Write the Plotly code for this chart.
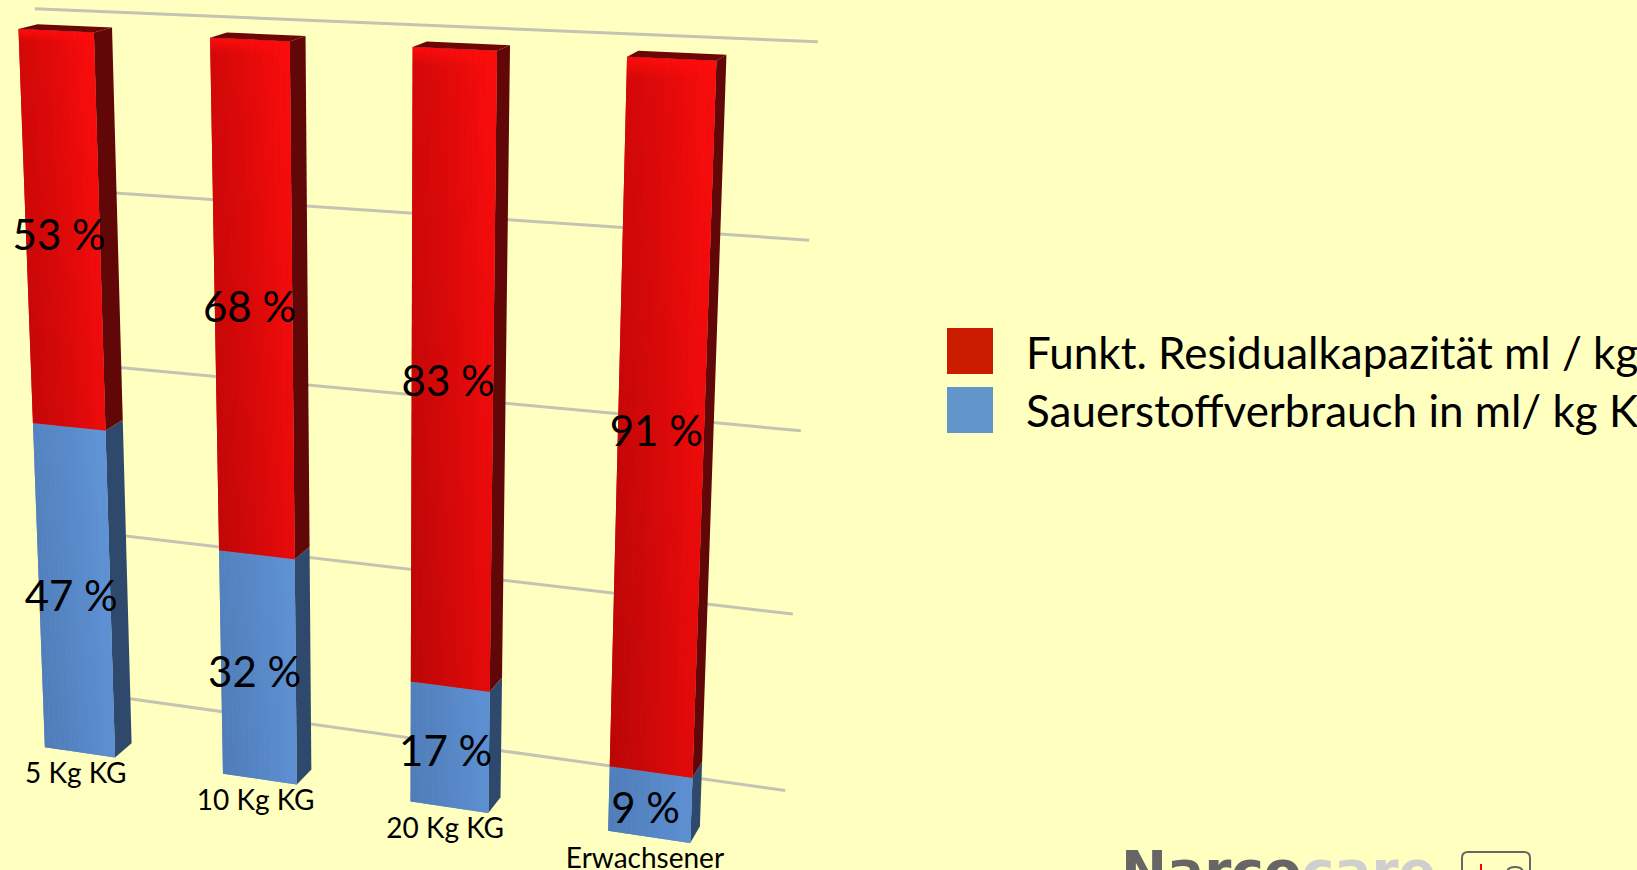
import numpy as np
import plotly.graph_objects as go

# ---- data ----
categories = ["5 Kg KG", "10 Kg KG", "20 Kg KG", "Erwachsener"]
frc_percent = [53, 68, 83, 91]
oxygen_percent = [47, 32, 17, 9]
series_names = ["Funkt. Residualkapazität ml / kg KG", "Sauerstoffverbrauch in ml/ kg KG"]
axis_ticks = [0, 25, 50, 75, 100]

# ---- page / style ----
W, H = 1637, 870
BG = "#FFFFC0"
FONT = "Lato"
HW = 0.2
WALL_D = 3.8

# ---- camera calibration of the tilted 3D chart box: (category, value, depth) -> page pixel ----
calib_world = []
calib_px = []
corner_px = [
    [(44, 747), (115, 757), (133, 742), (18, 30), (95, 32), (113, 28)],
    [(222, 775), (296, 784), (313, 770), (211, 38), (288, 41), (306, 35)],
    [(409, 802), (488, 813), (502, 797), (413, 47), (497, 51), (511, 45)],
    [(607, 831), (689, 843), (702, 827), (628, 57), (715, 60), (727, 55)],
]
for i, row in enumerate(corner_px):
    w = [(i - HW, 0, 0), (i + HW, 0, 0), (i + HW, 0, 1), (i - HW, 100, 0), (i + HW, 100, 0), (i + HW, 100, 1)]
    calib_world += w
    calib_px += row
calib_world += [(-0.5, 100, WALL_D), (3.5, 100, WALL_D), (3.5, 0, WALL_D), (-0.5, 0, WALL_D)]
calib_px += [(33, 9), (817, 42), (785, 790), (59, 689)]

A, b = [], []
for (X, V, D), (u, v) in zip(calib_world, calib_px):
    V = V / 100
    u, v = u / 1000, v / 1000
    A.append([X, V, D, 1, 0, 0, 0, 0, -u * X, -u * V, -u * D]); b.append(u)
    A.append([0, 0, 0, 0, X, V, D, 1, -v * X, -v * V, -v * D]); b.append(v)
p = np.linalg.lstsq(np.array(A, float), np.array(b, float), rcond=None)[0]


def proj(X, V, D=0.0):
    V = V / 100
    w = p[8] * X + p[9] * V + p[10] * D + 1
    return (1000 * (p[0] * X + p[1] * V + p[2] * D + p[3]) / w,
            1000 * (p[4] * X + p[5] * V + p[6] * D + p[7]) / w)


def mix(c0, c1, t):
    return tuple(c0[k] + (c1[k] - c0[k]) * t for k in range(3))


def rgb(c):
    return "rgb(%d,%d,%d)" % tuple(round(x) for x in c)


fig = go.Figure()


def poly(world, color=None, grad=None):
    pts = [proj(*q) for q in world]
    xs = [q[0] for q in pts] + [pts[0][0]]
    ys = [q[1] for q in pts] + [pts[0][1]]
    kw = dict(x=xs, y=ys, mode="lines", line=dict(width=0), fill="toself",
              hoverinfo="skip", showlegend=False)
    if grad:
        kw["fillgradient"] = dict(type="vertical", start=min(ys), stop=max(ys), colorscale=grad)
    else:
        kw["fillcolor"] = color
    fig.add_trace(go.Scatter(**kw))


# gridlines on the back wall
for t in axis_ticks:
    a, c = proj(-0.5, t, WALL_D), proj(3.5, t, WALL_D)
    fig.add_trace(go.Scatter(x=[a[0], c[0]], y=[a[1], c[1]], mode="lines",
                             line=dict(color="#C4C4B2", width=3), hoverinfo="skip", showlegend=False))

RED = dict(tl=(212, 8, 8), tr=(248, 12, 12), bl=(184, 6, 6), br=(222, 10, 10),
           side0=(112, 8, 8), side1=(84, 6, 6))
BLUE = dict(tl=(90, 140, 202), tr=(100, 155, 220), bl=(80, 125, 185), br=(92, 142, 208),
            side0=(54, 84, 124), side1=(40, 62, 94))
NSTRIP = 14


def segment(i, v0, v1, pal, is_top):
    poly([(i + HW, v0, 0), (i + HW, v1, 0), (i + HW, v1, 1), (i + HW, v0, 1)],
         color=rgb(mix(pal["side0"], pal["side1"], 0.5)))
    poly([(i - HW, v0, 0), (i + HW, v0, 0), (i + HW, v1, 0), (i - HW, v1, 0)],
         color=rgb(mix(pal["tl"], pal["br"], 0.5)))
    for j in range(NSTRIP):
        u0, u1 = j / NSTRIP, (j + 1) / NSTRIP
        um = (u0 + u1) / 2
        s = min(1.0, um / 0.9) ** 1.3
        frac_top = 1 - (v1 / 100)
        frac_bot = 1 - (v0 / 100)
        top = mix(mix(pal["tl"], pal["bl"], frac_top), mix(pal["tr"], pal["br"], frac_top), s)
        bot = mix(mix(pal["tl"], pal["bl"], frac_bot), mix(pal["tr"], pal["br"], frac_bot), s)
        X0, X1 = i - HW + 2 * HW * u0, i - HW + 2 * HW * u1
        if is_top:
            grad = [[0, "rgb(255,12,12)"], [0.03, rgb(top)], [1, rgb(bot)]]
        else:
            grad = [[0, rgb(top)], [1, rgb(bot)]]
        poly([(X0, v0, 0), (X1, v0, 0), (X1, v1, 0), (X0, v1, 0)], grad=grad)


for i, (o2, frc) in enumerate(zip(oxygen_percent, frc_percent)):
    segment(i, 0, o2, BLUE, False)
    segment(i, o2, o2 + frc, RED, True)
    v = o2 + frc
    poly([(i - HW, v, 0), (i + HW, v, 0), (i + HW, v, 1), (i - HW, v, 1)], color="#6E0606")

# value labels
label_x, label_y, label_t = [], [], []
for i, (o2, frc) in enumerate(zip(oxygen_percent, frc_percent)):
    for mid, val, nudge in ((o2 / 2, o2, 1.25), (o2 + frc / 2, frc, 1.0)):
        px = proj(i - 0.02, mid - nudge)
        label_x.append(px[0]); label_y.append(px[1]); label_t.append(f"{val} %")
fig.add_trace(go.Scatter(x=label_x, y=label_y, text=label_t, mode="text", textposition="middle center",
                         textfont=dict(family=FONT, size=42, color="#000000"),
                         hoverinfo="skip", showlegend=False, cliponaxis=False))

# category labels
cx, cy = [], []
for i in range(len(categories)):
    q = proj(i, 0)
    cx.append(q[0] - 4); cy.append(q[1] + 24)
fig.add_trace(go.Scatter(x=cx, y=cy, text=categories, mode="text", textposition="middle center",
                         textfont=dict(family=FONT, size=28, color="#000000"),
                         hoverinfo="skip", showlegend=False, cliponaxis=False))

# legend swatches and text
swatch_colors = ["#CC1C00", "#6295CC"]
swatch_y = [351, 410]
fig.add_trace(go.Scatter(x=[970, 970], y=swatch_y, mode="markers",
                         marker=dict(symbol="square", size=46, color=swatch_colors, line=dict(width=0)),
                         hoverinfo="skip", showlegend=False))
annots = []
for name, y in zip(series_names, [352, 410]):
    annots.append(dict(x=1024, y=y, xref="x", yref="y", text=name, showarrow=False,
                       xanchor="left", yanchor="middle", align="left",
                       font=dict(family=FONT, size=44, color="#000000")))
annots.append(dict(x=1119, y=837, xref="x", yref="y", showarrow=False, xanchor="left", yanchor="top",
                   text='<span style="color:#666666">Narco</span><span style="color:#CFCFCF">care</span>',
                   font=dict(family="DejaVu Sans", size=55, weight="bold"), align="left"))

shapes = [
    dict(type="path", xref="x", yref="y", line=dict(color="#666666", width=2),
         path="M1462,900 L1462,858 Q1462,852 1468,852 L1524,852 Q1530,852 1530,858 L1530,900"),
    dict(type="line", xref="x", yref="y", x0=1481, x1=1481, y0=864, y1=880, line=dict(color="#FF0000", width=2)),
    dict(type="path", xref="x", yref="y", line=dict(color="#666666", width=2),
         path="M1507,880 L1507,873 Q1507,867 1515,867 Q1523,867 1523,873 L1523,880"),
]

fig.update_layout(
    width=W, height=H, autosize=False,
    margin=dict(l=0, r=0, t=0, b=0),
    paper_bgcolor=BG, plot_bgcolor=BG,
    xaxis=dict(range=[0, W], visible=False, fixedrange=True),
    yaxis=dict(range=[H, 0], visible=False, fixedrange=True),
    annotations=annots, shapes=shapes, showlegend=False,
)
fig.write_html("out.html", config=dict(displayModeBar=False),
               post_script="document.body.style.margin='0';document.body.style.overflow='hidden';"
                           "document.body.style.background='#FFFFC0';")
